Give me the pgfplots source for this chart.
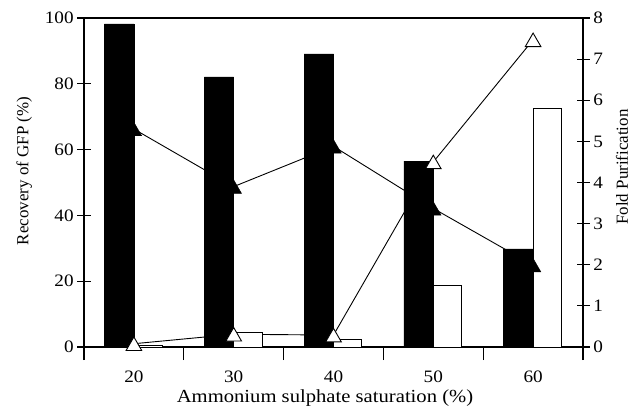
\documentclass[border=0pt]{standalone}
\usepackage{fontspec}
\setmainfont{Liberation Serif}
\usepackage{pgfplots}
\pgfplotsset{compat=1.18}

\newcommand\tk{\fontsize{17.5}{20}\selectfont}

\pgfplotsset{
  base/.style={
    at={(0,0)}, anchor=south west,
    scale only axis, width=499bp, height=329bp,
    xmin=15, xmax=65,
    tick align=center,
    major tick length=13bp,
    minor tick length=13bp,
    axis line style={line width=1.1bp},
    every tick/.style={line width=1.1bp, black},
    tick label style={font=\tk, xscale=1.1},
    /pgf/number format/assume math mode=true,
    clip=false,
  },
}

\begin{document}
\begin{tikzpicture}
\path[use as bounding box] (-84bp,-61bp) rectangle (551bp,347bp);

% fold purification lines, behind the bars
\begin{axis}[base, ymin=0, ymax=8, hide axis]
  \addplot[black, line width=0.9bp, mark=none] coordinates {
    (20,5.30) (30,3.90) (40,4.88) (50,3.37) (60,1.99)};
  \addplot[black, line width=0.9bp, mark=none] coordinates {
    (20,0.08) (30,0.31) (40,0.29) (50,4.50) (60,7.47)};
\end{axis}

% recovery bars
\begin{axis}[base, ymin=0, ymax=100,
    ybar,
    ytick={0,20,...,100}, ytick pos=left,
    xtick={20,30,40,50,60}, xtick pos=bottom,
    major x tick style={draw=none},
    minor xtick={15,25,35,45,55,65},
    xticklabel style={yshift=-7bp},
    xlabel={Ammonium sulphate saturation (\%)},
    ylabel={Recovery of GFP (\%)},
    xlabel style={font=\fontsize{18.5}{20}\selectfont, xscale=1.12, at={(axis description cs:0.483,0)}, anchor=base, yshift=-55bp},
    ylabel style={font=\fontsize{17}{20}\selectfont, at={(axis description cs:-0.12,0.535)}, anchor=center},
  ]
  \addplot[fill=black, draw=black, line width=0.5bp, bar width=2.95, bar shift=-1.475] coordinates {
    (20,98.2) (30,82.1) (40,89.1) (50,56.5) (60,29.8)};
  \addplot[fill=white, draw=black, line width=0.9bp, bar width=2.85, bar shift=1.425] coordinates {
    (20,0.6) (30,4.3) (40,2.4) (50,18.8) (60,72.6)};
\end{axis}

% fold purification markers and right axis
\begin{axis}[base, ymin=0, ymax=8,
    axis x line=none, axis y line*=right,
    ytick={0,1,...,8},
    ylabel={Fold Purification},
    ylabel style={font=\fontsize{17}{20}\selectfont, at={(axis description cs:1.078,0.547)}, anchor=center, rotate=0},
  ]
  \addplot[only marks, mark=triangle*, mark size=9bp, fill=black, draw=black,
    mark options={yshift=-2.25bp}] coordinates {
    (20,5.30) (30,3.90) (40,4.88) (50,3.37) (60,1.99)};
  \addplot[only marks, mark=triangle*, mark size=9bp, fill=white, draw=black, line width=0.9bp,
    mark options={yshift=-2.25bp}] coordinates {
    (20,0.08) (30,0.31) (40,0.29) (50,4.50) (60,7.47)};
\end{axis}
\end{tikzpicture}
\end{document}
